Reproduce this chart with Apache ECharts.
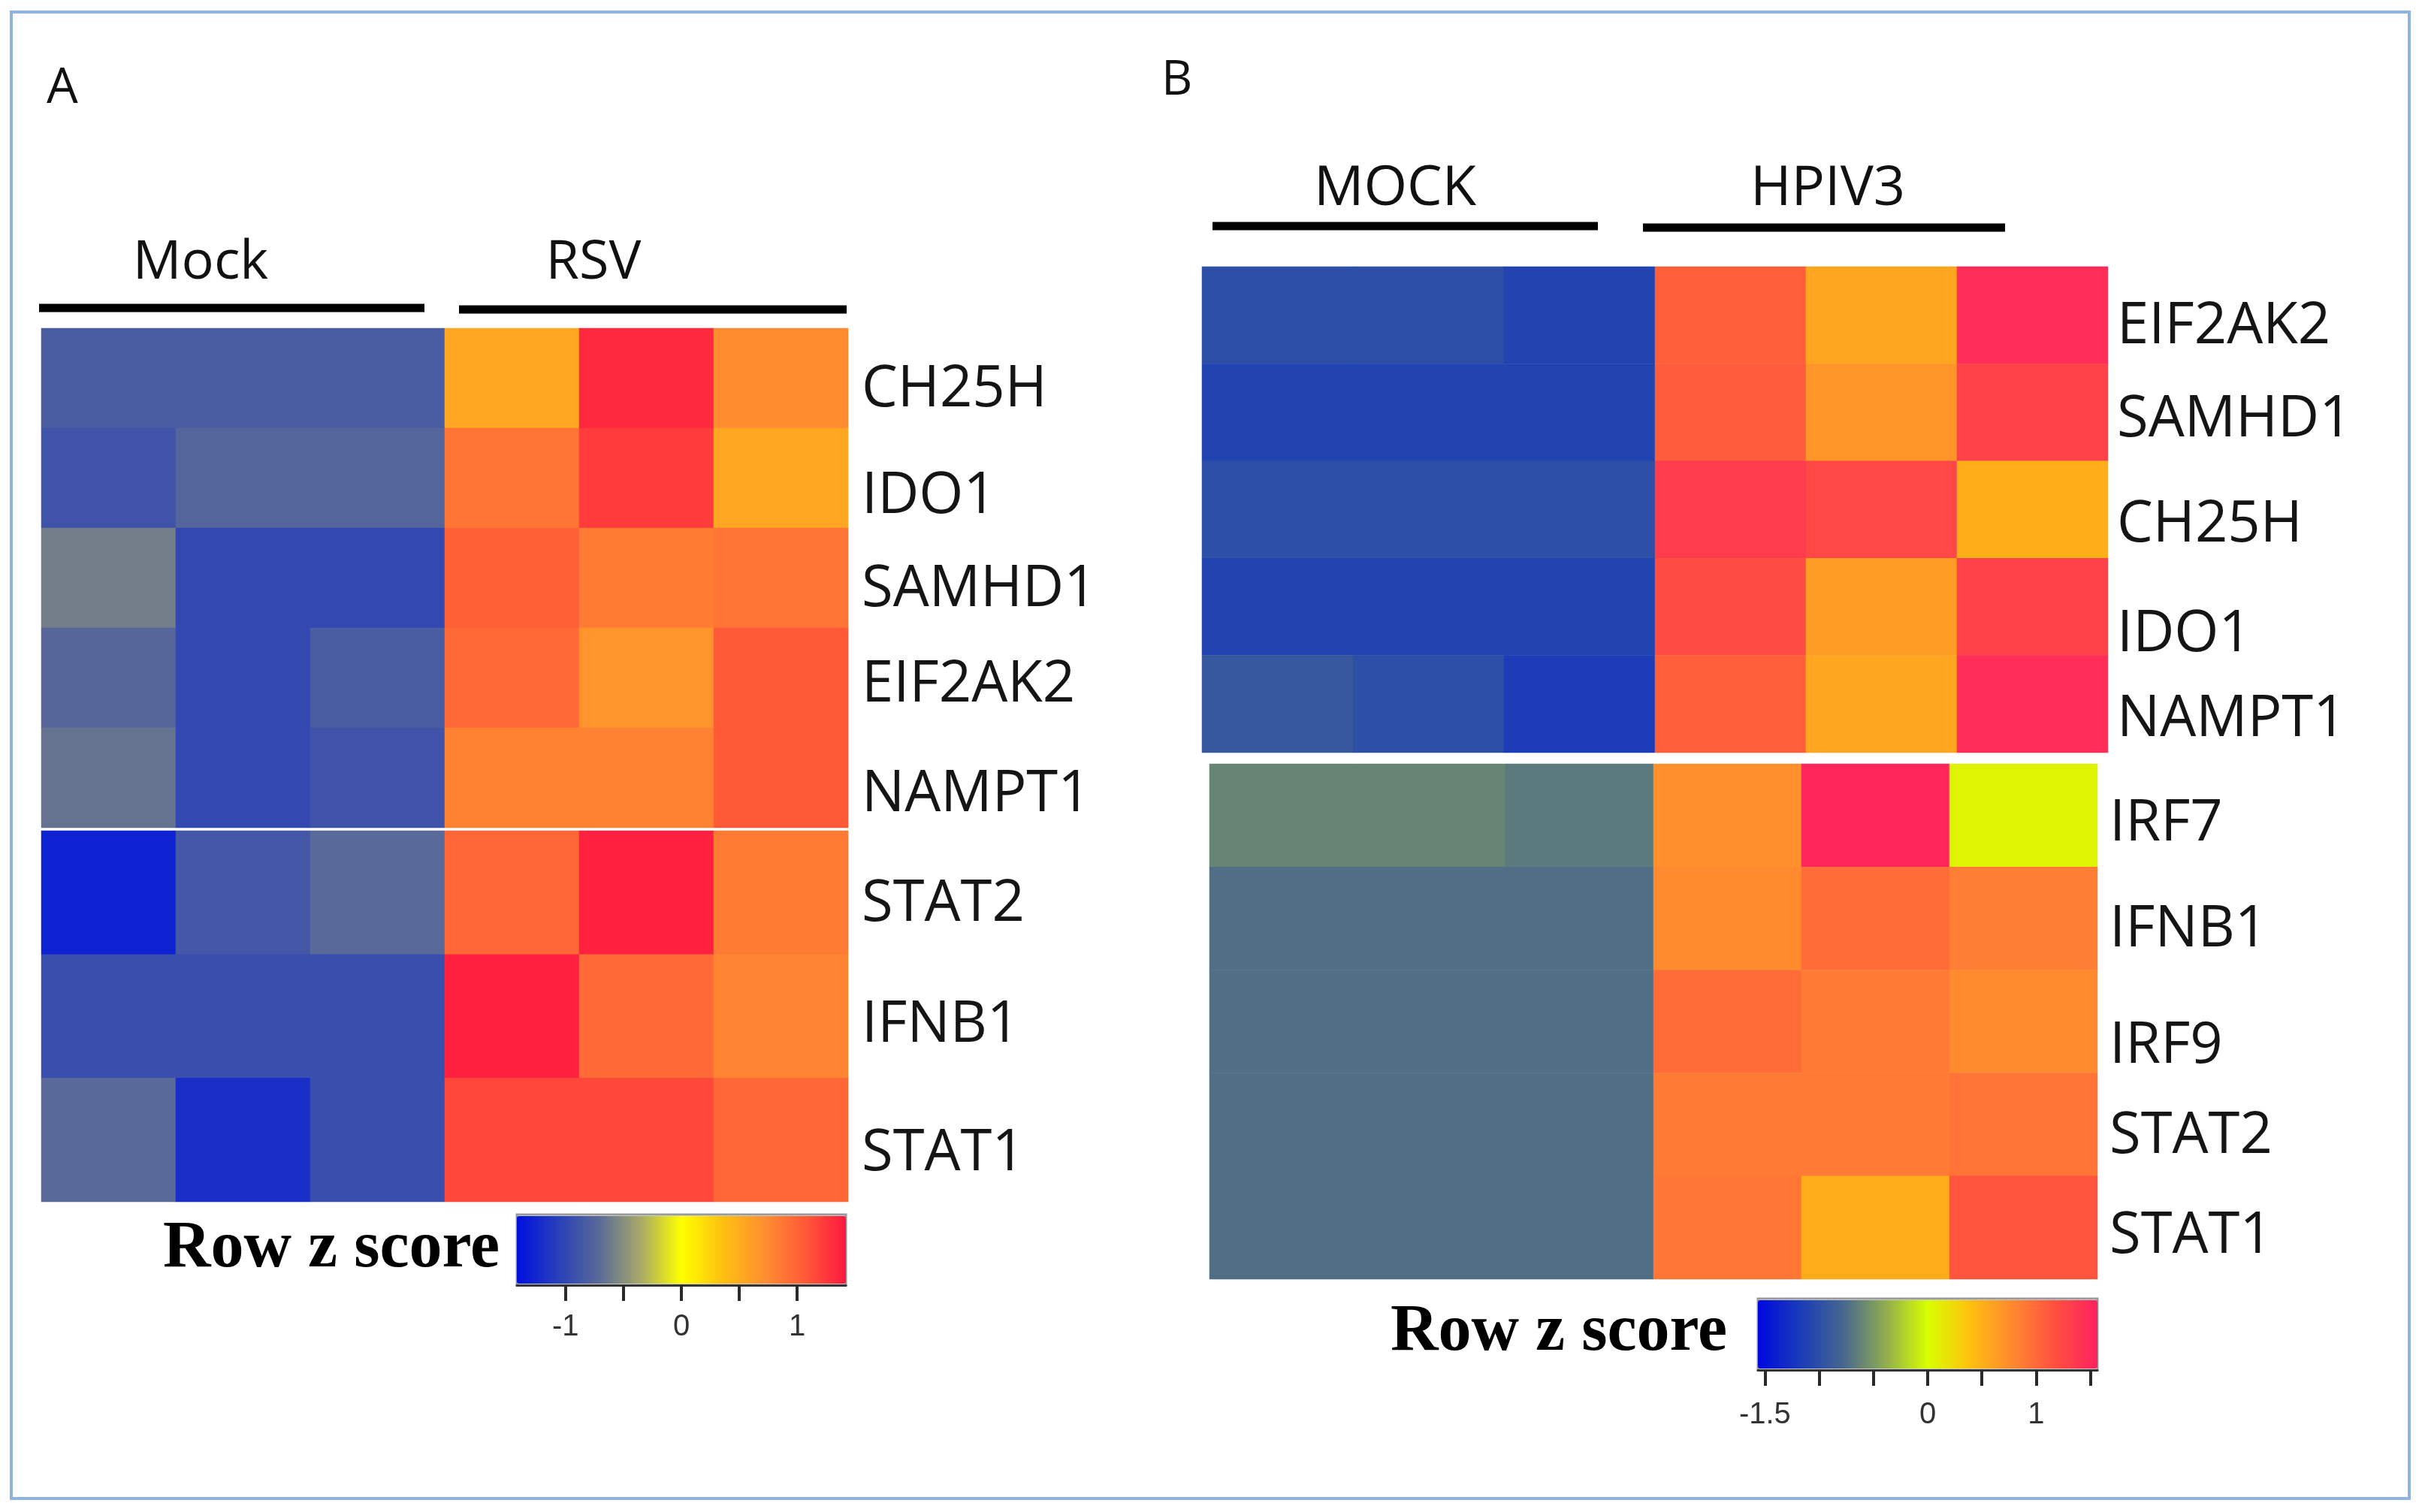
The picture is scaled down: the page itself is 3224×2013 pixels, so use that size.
<!DOCTYPE html>
<html>
<head>
<meta charset="utf-8">
<script src="https://cdn.jsdelivr.net/npm/echarts@6/dist/echarts.min.js"></script>
<style>
html,body{margin:0;padding:0;background:#fff;}
#chart{width:3224px;height:2013px;}
</style>
</head>
<body>
<div id="chart"></div>
<script>
// ---------- data ----------
const colsA = ['Mock 1', 'Mock 2', 'Mock 3', 'RSV 1', 'RSV 2', 'RSV 3'];
const genesA1 = ['CH25H', 'IDO1', 'SAMHD1', 'EIF2AK2', 'NAMPT1'];
const genesA2 = ['STAT2', 'IFNB1', 'STAT1'];
const zA1 = [
  [-0.82, -0.82, -0.82, 0.55, 1.33, 0.73],
  [-0.90, -0.75, -0.75, 0.89, 1.23, 0.55],
  [-0.60, -0.99, -0.99, 1.02, 0.85, 0.89],
  [-0.74, -0.99, -0.82, 0.96, 0.68, 1.07],
  [-0.66, -0.99, -0.90, 0.81, 0.81, 1.07]
];
const zA2 = [
  [-1.29, -0.87, -0.72, 0.98, 1.37, 0.85],
  [-0.94, -0.94, -0.94, 1.37, 0.96, 0.79],
  [-0.72, -1.20, -0.94, 1.16, 1.16, 0.97]
];
const colsB = ['MOCK 1', 'MOCK 2', 'MOCK 3', 'HPIV3 1', 'HPIV3 2', 'HPIV3 3'];
const genesB1 = ['EIF2AK2', 'SAMHD1', 'CH25H', 'IDO1', 'NAMPT1'];
const genesB2 = ['IRF7', 'IFNB1', 'IRF9', 'STAT2', 'STAT1'];
const zB1 = [
  [-1.00, -1.00, -1.10, 1.06, 0.58, 1.46],
  [-1.10, -1.10, -1.10, 1.10, 0.69, 1.30],
  [-1.00, -1.00, -1.00, 1.34, 1.24, 0.50],
  [-1.10, -1.10, -1.10, 1.21, 0.64, 1.30],
  [-0.91, -1.00, -1.16, 1.06, 0.58, 1.46]
];
const zB2 = [
  [-0.61, -0.61, -0.67, 0.73, 1.52, 0.07],
  [-0.73, -0.73, -0.73, 0.76, 0.98, 0.85],
  [-0.73, -0.73, -0.73, 0.98, 0.88, 0.76],
  [-0.73, -0.73, -0.73, 0.88, 0.88, 0.92],
  [-0.73, -0.73, -0.73, 0.91, 0.53, 1.14]
];
const scaleA = [-1.42, 1.42];
const scaleB = [-1.565, 1.565];
const ticksA = [-1, -0.5, 0, 0.5, 1];
const tickLabelsA = [-1, 0, 1];
const ticksB = [-1.5, -1, -0.5, 0, 0.5, 1, 1.5];
const tickLabelsB = [-1.5, 0, 1];
const colorsA = ['#0010e0', '#2840b8', '#5a6a98', '#a8a868', '#ffff00', '#ffc010', '#ff9030', '#ff5a38', '#ff1840'];
const colorsB = ['#0008e0', '#1a3cb8', '#466690', '#90ac50', '#d8ff00', '#ffc010', '#ff8830', '#ff5040', '#ff2060'];

// label fine-tuning (downward nudge in px, style only)
const nudgeA1 = [16, 25, 16, 10, 23];
const nudgeA2 = [16, 12, 19];
const nudgeB1 = [16, 10, 21, 37, 21];
const nudgeB2 = [12, 16, 33, 16, 12];

// ---------- helpers ----------
function cells(m) {
  const out = [];
  m.forEach((row, r) => row.forEach((v, c) => out.push([c, r, v])));
  return out;
}
const labelFont = {fontFamily: 'Open Sans', fontSize: 76, color: '#151515'};
function catX(cols, gi) {
  return {type: 'category', data: cols, gridIndex: gi, show: false};
}
function catY(genes, nudge, gi, margin) {
  const rich = {};
  nudge.forEach((d, i) => {
    rich['r' + i] = {lineHeight: 2 * d, fontFamily: 'Open Sans', fontSize: 76, color: '#151515'};
  });
  return {
    type: 'category', gridIndex: gi, inverse: true, position: 'right', data: genes,
    axisLine: {show: false}, axisTick: {show: false}, splitLine: {show: false},
    axisLabel: Object.assign({
      margin: margin, rich: rich, interval: 0, hideOverlap: false,
      formatter: (v, i) => '{r' + i + '| }\n{r' + i + '|' + v + '}'
    }, labelFont)
  };
}
function barAxis(gi, ext, ticks, labels, margin) {
  return {
    type: 'value', gridIndex: gi, min: ext[0], max: ext[1], position: 'bottom',
    axisLine: {show: true, lineStyle: {color: '#333', width: 3}},
    axisTick: {show: true, length: 21, lineStyle: {color: '#2a2a2a', width: 4}, customValues: ticks},
    axisLabel: {show: true, customValues: labels, margin: margin, fontFamily: 'Liberation Sans', fontSize: 40, color: '#333'},
    splitLine: {show: false}
  };
}
function hm(xi, yi, m) {
  return {
    type: 'heatmap', xAxisIndex: xi, yAxisIndex: yi, data: cells(m),
    itemStyle: {borderWidth: 0}, emphasis: {disabled: true}, silent: true
  };
}

const chart = echarts.init(document.getElementById('chart'), null, {renderer: 'canvas'});
const option = {
  backgroundColor: '#ffffff',
  animation: false,
  grid: [
    {left: 55, top: 437, width: 1074, height: 665},
    {left: 55, top: 1106, width: 1074, height: 494},
    {left: 1600, top: 355, width: 1206, height: 647},
    {left: 1610, top: 1017, width: 1182, height: 686},
    {left: 688, top: 1617, width: 438, height: 94, show: true, borderColor: '#999', borderWidth: 3, backgroundColor: 'transparent'},
    {left: 2340, top: 1729, width: 452, height: 95, show: true, borderColor: '#999', borderWidth: 3, backgroundColor: 'transparent'}
  ],
  xAxis: [
    catX(colsA, 0), catX(colsA, 1), catX(colsB, 2), catX(colsB, 3),
    barAxis(4, scaleA, ticksA, tickLabelsA, 36),
    barAxis(5, scaleB, ticksB, tickLabelsB, 40)
  ],
  yAxis: [
    catY(genesA1, nudgeA1, 0, 18), catY(genesA2, nudgeA2, 1, 18),
    catY(genesB1, nudgeB1, 2, 12), catY(genesB2, nudgeB2, 3, 16),
    {type: 'value', gridIndex: 4, show: false}, {type: 'value', gridIndex: 5, show: false}
  ],
  visualMap: [
    {type: 'continuous', min: scaleA[0], max: scaleA[1], seriesIndex: [0, 1], orient: 'horizontal',
     left: 688, top: 1619, itemWidth: 90, itemHeight: 438, calculable: false, hoverLink: false,
     padding: 0, text: null, inRange: {color: colorsA}},
    {type: 'continuous', min: scaleB[0], max: scaleB[1], seriesIndex: [2, 3], orient: 'horizontal',
     left: 2340, top: 1731, itemWidth: 91, itemHeight: 452, calculable: false, hoverLink: false,
     padding: 0, text: null, inRange: {color: colorsB}}
  ],
  series: [hm(0, 0, zA1), hm(1, 1, zA2), hm(2, 2, zB1), hm(3, 3, zB2)],
  graphic: [
    {type: 'rect', shape: {x: 15, y: 16, width: 3192, height: 1979}, style: {fill: 'none', stroke: '#8fb3e0', lineWidth: 4}, silent: true},
    {type: 'text', x: 62, y: 118, style: {text: 'A', font: '66px "Open Sans"', fill: '#111', textVerticalAlign: 'middle'}},
    {type: 'text', x: 1546, y: 108, style: {text: 'B', font: '64px "Open Sans"', fill: '#111', textVerticalAlign: 'middle'}},
    {type: 'text', x: 267, y: 350, style: {text: 'Mock', font: '72px "Open Sans"', fill: '#111', textAlign: 'center', textVerticalAlign: 'middle'}},
    {type: 'text', x: 790, y: 350, style: {text: 'RSV', font: '72px "Open Sans"', fill: '#111', textAlign: 'center', textVerticalAlign: 'middle'}},
    {type: 'text', x: 1857, y: 252, style: {text: 'MOCK', font: '74px "Open Sans"', fill: '#111', textAlign: 'center', textVerticalAlign: 'middle'}},
    {type: 'text', x: 2433, y: 252, style: {text: 'HPIV3', font: '74px "Open Sans"', fill: '#111', textAlign: 'center', textVerticalAlign: 'middle'}},
    {type: 'line', shape: {x1: 52, y1: 410, x2: 565, y2: 410}, style: {stroke: '#000', lineWidth: 11}},
    {type: 'line', shape: {x1: 611, y1: 412, x2: 1127, y2: 412}, style: {stroke: '#000', lineWidth: 11}},
    {type: 'line', shape: {x1: 1614, y1: 301, x2: 2127, y2: 301}, style: {stroke: '#000', lineWidth: 11}},
    {type: 'line', shape: {x1: 2187, y1: 303, x2: 2669, y2: 303}, style: {stroke: '#000', lineWidth: 11}},
    {type: 'text', x: 665, y: 1663, style: {text: 'Row z score', font: 'bold 88px "Liberation Serif"', fill: '#000', textAlign: 'right', textVerticalAlign: 'middle'}},
    {type: 'text', x: 2299, y: 1774, style: {text: 'Row z score', font: 'bold 88px "Liberation Serif"', fill: '#000', textAlign: 'right', textVerticalAlign: 'middle'}}
  ]
};
chart.setOption(option);
</script>
</body>
</html>
